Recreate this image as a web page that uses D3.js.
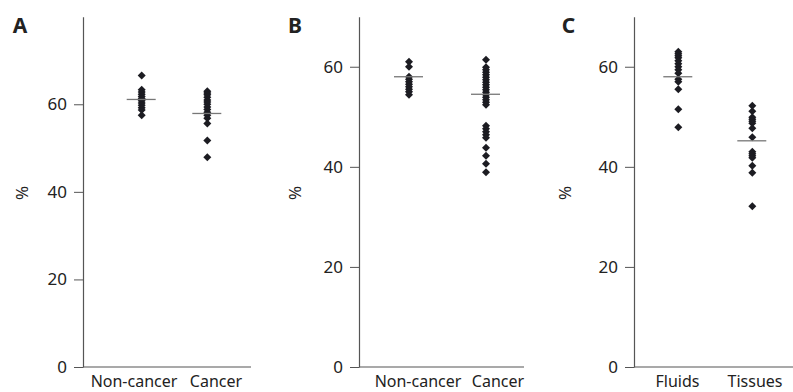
<!DOCTYPE html>
<html>
<head>
<meta charset="utf-8">
<script src="https://cdn.jsdelivr.net/npm/d3@7"></script>
<style>
  body { margin: 0; background: #fff; }
  text { font-family: "Noto Sans", "DejaVu Sans", sans-serif; fill: #222; }
</style>
</head>
<body>
<script>
// values
const groupsA = ["Non-cancer", "Cancer"];
const groupsB = ["Non-cancer", "Cancer"];
const groupsC = ["Fluids", "Tissues"];

const nonCancerA = [66.6, 63.3, 62.8, 62.3, 61.8, 61.3, 60.8, 60.3, 59.8, 59.2, 58.7, 57.5];
const cancerA = [63.0, 62.6, 62.2, 61.6, 61.0, 60.5, 60.0, 59.4, 58.8, 58.2, 57.5, 56.8, 55.6, 51.7, 47.9];
const meansA = [61.1, 57.9];

const nonCancerB = [61.0, 60.0, 58.0, 57.5, 57.0, 56.5, 56.0, 55.5, 55.0, 54.4];
const cancerB = [61.4, 59.9, 59.4, 58.9, 58.4, 57.9, 57.4, 56.9, 56.4, 55.9, 55.4, 54.9, 54.4,
                 53.9, 53.4, 52.9, 52.4, 48.2, 47.6, 47.0, 46.4, 45.8, 43.8, 42.2, 40.6, 38.9];
const meansB = [58.0, 54.5];

const fluidsC = [63.0, 62.6, 62.2, 61.8, 61.2, 60.6, 60.0, 59.4, 58.7, 57.5, 57.0, 55.5, 51.5, 47.9];
const tissuesC = [52.2, 51.1, 49.9, 49.5, 49.1, 48.7, 47.7, 45.9, 43.0, 42.6, 42.2, 41.8, 40.2, 38.8, 32.1];
const meansC = [58.0, 45.2];

const yTicks = [0, 20, 40, 60];
const yMax = [80, 70, 70];
const letters = ["A", "B", "C"];

const svg = d3.select("body").append("svg")
    .attr("width", 793)
    .attr("height", 392)

const panels = [
  {groups: groupsA, series: [nonCancerA, cancerA], means: meansA,
   axisX: 83, right: 251, dotX: [141.7, 207.3], labelX: [134, 216], letterX: 20, pctX: 22},
  {groups: groupsB, series: [nonCancerB, cancerB], means: meansB,
   axisX: 359, right: 524, dotX: [409, 486], labelX: [418, 498], letterX: 295, pctX: 295},
  {groups: groupsC, series: [fluidsC, tissuesC], means: meansC,
   axisX: 634, right: 793, dotX: [678.3, 752.3], labelX: [677.5, 755], letterX: 568.5, pctX: 565.5}
]

const plotBottom = 367, plotTop = 16.7;
const diamond = d3.symbol(d3.symbolSquare, 32);

panels.forEach((p, i) => {
  const g = svg.append("g");

  const y = d3.scaleLinear().domain([0, yMax[i]]).range([plotBottom, plotTop]);
  const x = d3.scalePoint().domain(p.groups).range(p.dotX);
  const xl = d3.scaleOrdinal().domain(p.groups).range(p.labelX);

  // y axis
  const yAxis = g.append("g")
      .attr("transform", `translate(${p.axisX},0)`)
      .call(d3.axisLeft(y).tickValues(yTicks).tickSize(9).tickPadding(7).tickSizeOuter(0))
  yAxis.select(".domain").attr("stroke", "#555").attr("stroke-width", 1.2)
  yAxis.selectAll(".tick line").attr("stroke", "#555")
  yAxis.selectAll(".tick text")
      .style("font-size", "17px")
      .style("font-family", "'Noto Sans', sans-serif")
      .attr("fill", "#222")

  // x baseline
  g.append("line")
      .attr("x1", p.axisX).attr("x2", p.right)
      .attr("y1", plotBottom).attr("y2", plotBottom)
      .attr("stroke", "#555").attr("stroke-width", 1.2)

  g.selectAll(".xlabel")
      .data(p.groups)
      .join("text")
      .attr("class", "xlabel")
      .attr("x", d => xl(d))
      .attr("y", 387)
      .attr("text-anchor", "middle")
      .style("font-size", "16px")
      .text(d => d)

  // % label
  g.append("text")
      .attr("transform", `translate(${p.pctX},193) rotate(-90)`)
      .attr("text-anchor", "middle")
      .attr("dy", "0.35em")
      .style("font-size", "17px")
      .text("%")

  // panel letter
  g.append("text")
      .attr("x", p.letterX)
      .attr("y", 33)
      .attr("text-anchor", "middle")
      .style("font-size", "21px")
      .style("font-weight", "bold")
      .text(letters[i])

  // dots
  p.groups.forEach((grp, j) => {
    g.selectAll(".dot-" + j)
        .data(p.series[j])
        .join("path")
        .attr("class", "dot-" + j)
        .attr("d", diamond)
        .attr("transform", d => `translate(${x(grp)},${y(d)}) rotate(45)`)
        .attr("fill", "#1c1c22")
  })

  // mean lines
  g.selectAll(".mean")
      .data(p.means)
      .join("line")
      .attr("class", "mean")
      .attr("x1", (d, j) => x(p.groups[j]) - 15)
      .attr("x2", (d, j) => x(p.groups[j]) + 14)
      .attr("y1", d => y(d))
      .attr("y2", d => y(d))
      .attr("stroke", "#777")
      .attr("stroke-width", 1.3)
})
</script>
</body>
</html>
